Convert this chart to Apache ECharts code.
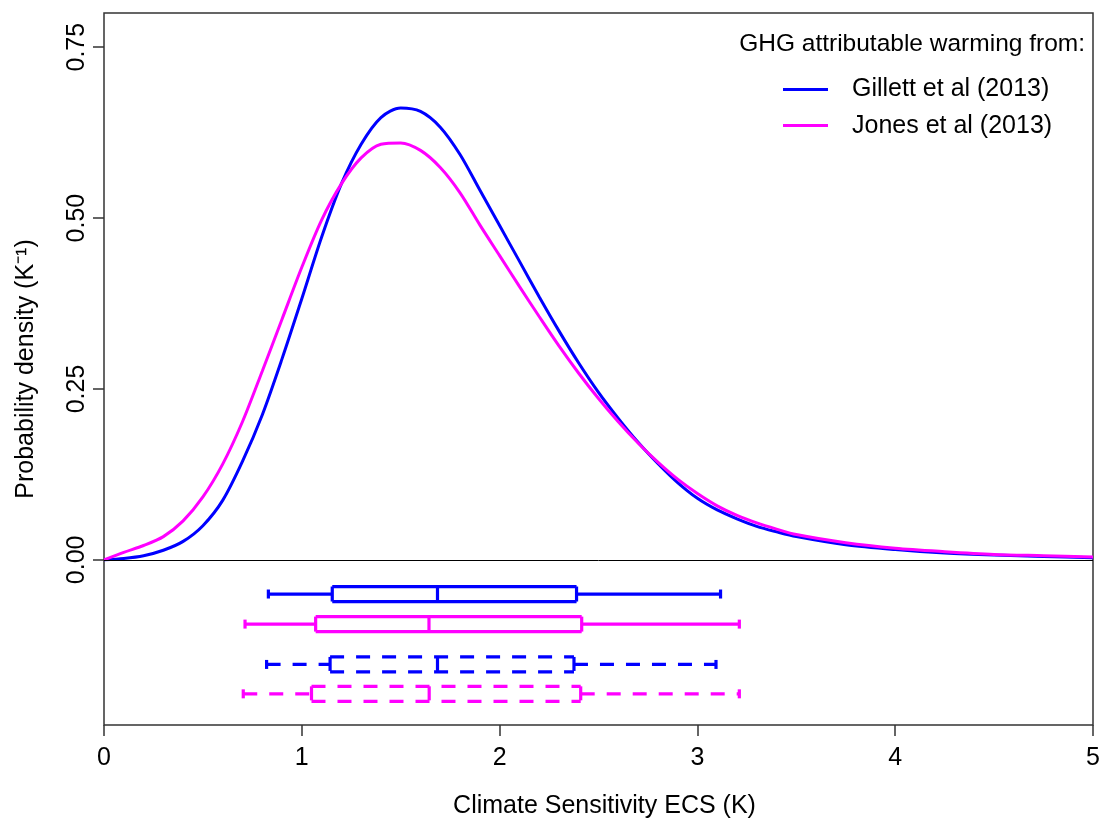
<!DOCTYPE html>
<html>
<head>
  <title>Climate sensitivity ECS</title>
  <style>
    body {
      margin: 0;
      background-color: #ffffff;
    }
    #chart {
      width: 1103px;
      height: 818px;
    }
  </style>
</head>
<body>
  <div id="chart"></div>
  <script src="https://cdn.jsdelivr.net/npm/echarts@6.0.0/dist/echarts.min.js"></script>
  <script>
    var ecs = [0, 0.1, 0.2, 0.3, 0.4, 0.5, 0.6, 0.7, 0.8, 0.9,
      1.0, 1.1, 1.2, 1.3, 1.4, 1.5, 1.6, 1.7, 1.8, 1.9,
      2.0, 2.1, 2.2, 2.3, 2.4, 2.5, 2.6, 2.7, 2.8, 2.9,
      3.0, 3.1, 3.2, 3.3, 3.4, 3.5, 3.75, 4.0, 4.25, 4.5, 4.75, 5.0];
    var gillettDensity = [0, 0.002, 0.006, 0.014, 0.027, 0.050, 0.087, 0.144, 0.212, 0.294,
      0.382, 0.472, 0.550, 0.608, 0.647, 0.661, 0.656, 0.633, 0.593, 0.541,
      0.489, 0.437, 0.385, 0.335, 0.288, 0.245, 0.207, 0.172, 0.141, 0.113,
      0.090, 0.073, 0.060, 0.049, 0.041, 0.034, 0.022, 0.015, 0.010, 0.007, 0.005, 0.003];
    var jonesDensity = [0, 0.011, 0.021, 0.034, 0.057, 0.092, 0.140, 0.202, 0.276, 0.352,
      0.428, 0.497, 0.550, 0.588, 0.608, 0.610, 0.599, 0.574, 0.537, 0.490,
      0.445, 0.400, 0.356, 0.313, 0.273, 0.236, 0.202, 0.171, 0.143, 0.118,
      0.097, 0.079, 0.065, 0.054, 0.045, 0.037, 0.025, 0.017, 0.012, 0.008, 0.006, 0.004];

    // box plots: [low whisker, q1, median, q3, high whisker]
    var gillettBox = [0.831, 1.154, 1.686, 2.389, 3.117];
    var jonesBox = [0.713, 1.070, 1.643, 2.415, 3.212];
    var gillettBoxDashed = [0.822, 1.143, 1.686, 2.376, 3.094];
    var jonesBoxDashed = [0.704, 1.049, 1.644, 2.410, 3.212];
    // vertical position of each box row (density units, below zero)
    var boxRows = [-0.050, -0.094, -0.153, -0.196];

    var yTicks = [0, 0.25, 0.5, 0.75];
    var seriesNames = ['Gillett et al (2013)', 'Jones et al (2013)'];

    var BLUE = '#0000ff';
    var MAGENTA = '#ff00ff';
    var FONT = '"Liberation Sans", Arial, sans-serif';

    function pairs(xs, ys) {
      return xs.map(function (x, i) { return [x, ys[i]]; });
    }

    function boxSeries(stats, row, color, dashed) {
      return {
        type: 'custom',
        silent: true,
        data: [stats.concat([row])],
        encode: { x: [0, 1, 2, 3, 4], y: 5 },
        renderItem: function (params, api) {
          var yv = api.value(5);
          var pt = function (k) { return api.coord([api.value(k), yv]); };
          var lo = pt(0), q1 = pt(1), md = pt(2), q3 = pt(3), hi = pt(4);
          var cy = lo[1];
          var h = 7.5, cap = 4.5;
          var style = {
            stroke: color,
            lineWidth: 3.2,
            fill: null,
            lineDash: dashed ? [14, 12] : null
          };
          function line(x1, y1, x2, y2) {
            return { type: 'line', shape: { x1: x1, y1: y1, x2: x2, y2: y2 }, style: style };
          }
          return {
            type: 'group',
            children: [
              line(lo[0], cy, q1[0], cy),
              line(q3[0], cy, hi[0], cy),
              line(lo[0], cy - cap, lo[0], cy + cap),
              line(hi[0], cy - cap, hi[0], cy + cap),
              line(q1[0], cy - h, q3[0], cy - h),
              line(q1[0], cy + h, q3[0], cy + h),
              line(q1[0], cy - h, q1[0], cy + h),
              line(q3[0], cy - h, q3[0], cy + h),
              line(md[0], cy - h, md[0], cy + h)
            ]
          };
        }
      };
    }

    var option = {
      animation: false,
      backgroundColor: '#ffffff',
      textStyle: { fontFamily: FONT },
      title: {
        text: 'GHG attributable warming from:',
        right: 18,
        top: 23,
        padding: 0,
        textStyle: { fontFamily: FONT, fontSize: 24.5, fontWeight: 'normal', color: '#000' }
      },
      legend: {
        data: seriesNames,
        orient: 'vertical',
        left: 783,
        top: 68,
        padding: 0,
        itemWidth: 45,
        itemHeight: 24,
        itemGap: -7,
        icon: 'path://M0,13 L45,13 L45,16 L0,16 Z',
        textStyle: { fontFamily: FONT, fontSize: 25, lineHeight: 24, color: '#000', padding: [0, 0, 0, 19] }
      },
      grid: {
        left: 104,
        right: 10,
        top: 13,
        bottom: 93,
        outerBoundsMode: 'none',
        containLabel: false,
        show: true,
        borderColor: '#333',
        borderWidth: 1.5
      },
      xAxis: {
        type: 'value',
        min: 0,
        max: 5,
        interval: 1,
        name: 'Climate Sensitivity ECS (K)',
        nameLocation: 'middle',
        nameGap: 59,
        nameTextStyle: { fontFamily: FONT, fontSize: 25, color: '#000', padding: [0, 0, 0, 12] },
        axisLine: { show: false, onZero: false },
        axisTick: { show: true, length: 11, lineStyle: { color: '#333', width: 1.5 } },
        axisLabel: { fontFamily: FONT, fontSize: 25, color: '#000', margin: 12 },
        splitLine: { show: false }
      },
      yAxis: {
        type: 'value',
        min: -0.2416,
        max: 0.8,
        name: 'Probability density (K\u207B\u00B9)',
        nameLocation: 'middle',
        nameGap: 45,
        nameTextStyle: { fontFamily: FONT, fontSize: 25, color: '#000' },
        axisLine: { show: false, onZero: false },
        axisTick: { show: true, length: 11, customValues: yTicks, lineStyle: { color: '#333', width: 1.5 } },
        axisLabel: {
          fontFamily: FONT,
          fontSize: 25,
          color: '#000',
          rotate: 90,
          margin: 5,
          customValues: yTicks,
          formatter: function (v) { return v.toFixed(2); }
        },
        splitLine: { show: false }
      },
      series: [
        {
          name: seriesNames[0],
          type: 'line',
          data: pairs(ecs, gillettDensity),
          smooth: 0.3,
          showSymbol: false,
          color: BLUE,
          lineStyle: { color: BLUE, width: 3 },
          z: 3,
          markLine: {
            silent: true,
            symbol: ['none', 'none'],
            label: { show: false },
            lineStyle: { color: '#000', width: 1, type: 'solid' },
            data: [{ yAxis: 0 }]
          }
        },
        {
          name: seriesNames[1],
          type: 'line',
          data: pairs(ecs, jonesDensity),
          smooth: 0.3,
          showSymbol: false,
          color: MAGENTA,
          lineStyle: { color: MAGENTA, width: 3 },
          z: 3
        },
        boxSeries(gillettBox, boxRows[0], BLUE, false),
        boxSeries(jonesBox, boxRows[1], MAGENTA, false),
        boxSeries(gillettBoxDashed, boxRows[2], BLUE, true),
        boxSeries(jonesBoxDashed, boxRows[3], MAGENTA, true)
      ]
    };

    var chart = echarts.init(document.getElementById('chart'));
    chart.setOption(option);
  </script>
</body>
</html>
